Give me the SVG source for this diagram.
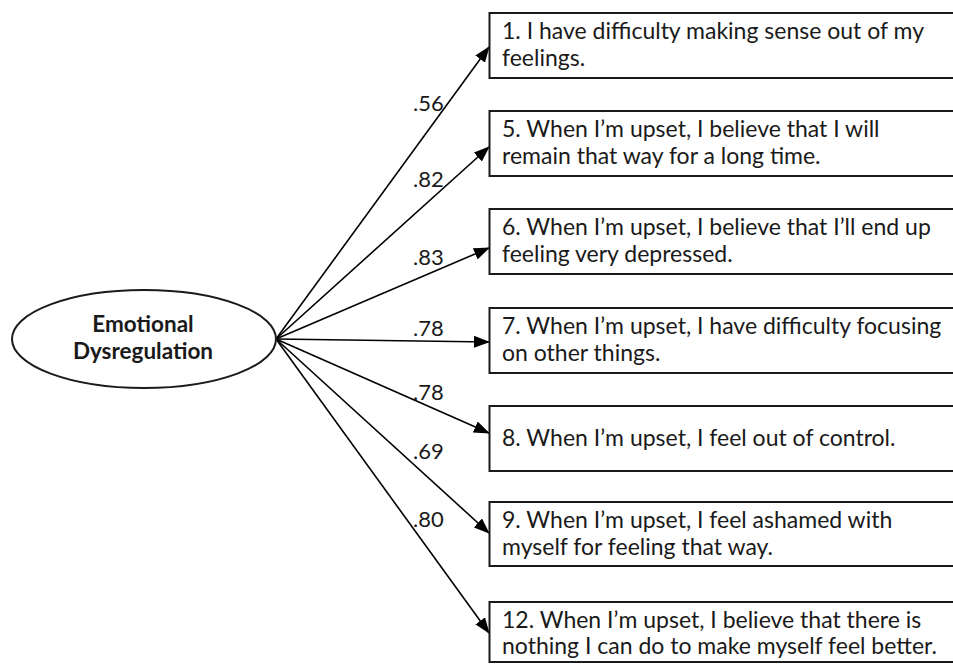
<svg xmlns="http://www.w3.org/2000/svg" width="953" height="664" viewBox="0 0 953 664">
<defs>
<marker id="ah" markerWidth="16" markerHeight="12" refX="15" refY="6" orient="auto" markerUnits="userSpaceOnUse">
<path d="M0,0 L16,6 L0,12 Z" fill="#000"/>
</marker>
<style>
.box{fill:#fff;stroke:#1a1a1a;stroke-width:2}
.t{font-family:Lato,"Liberation Sans",sans-serif;font-size:23px;fill:#1a1a1a}
.lbl{font-family:Lato,"Liberation Sans",sans-serif;font-size:22px;fill:#1a1a1a}
.c{stroke:#000;stroke-width:1.6;fill:none;marker-end:url(#ah)}
.lv{font-family:Lato,"Liberation Sans",sans-serif;font-size:22.5px;font-weight:bold;fill:#1a1a1a;text-anchor:middle}
</style>
</defs>
<rect width="953" height="664" fill="#fff"/>
<g id="connectors">
<line class="c" x1="276" y1="339" x2="489" y2="47"/>
<line class="c" x1="276" y1="339" x2="489" y2="147"/>
<line class="c" x1="276" y1="339" x2="489" y2="248"/>
<line class="c" x1="276" y1="339" x2="489" y2="342"/>
<line class="c" x1="276" y1="339" x2="489" y2="433"/>
<line class="c" x1="276" y1="339" x2="489" y2="533"/>
<line class="c" x1="276" y1="339" x2="489" y2="633"/>
<text class="lbl" x="413" y="111">.56</text>
<text class="lbl" x="413" y="187">.82</text>
<text class="lbl" x="413" y="265">.83</text>
<text class="lbl" x="413" y="336">.78</text>
<text class="lbl" x="413" y="400">.78</text>
<text class="lbl" x="413" y="459">.69</text>
<text class="lbl" x="413" y="527">.80</text>
</g>
<g id="latent">
<ellipse cx="144" cy="339" rx="132" ry="49" fill="#fff" stroke="#1a1a1a" stroke-width="2"/>
<text class="lv" x="143" y="332">Emotional</text>
<text class="lv" x="143" y="359">Dysregulation</text>
</g>
<g id="item1">
<rect class="box" x="489.5" y="13" width="470" height="65"/>
<text class="t" x="502" y="39">1. I have difficulty making sense out of my</text>
<text class="t" x="502" y="66">feelings.</text>
</g>
<g id="item5">
<rect class="box" x="489.5" y="111" width="470" height="65"/>
<text class="t" x="502" y="137">5. When I’m upset, I believe that I will</text>
<text class="t" x="502" y="164">remain that way for a long time.</text>
</g>
<g id="item6">
<rect class="box" x="489.5" y="209" width="470" height="65"/>
<text class="t" x="502" y="235">6. When I’m upset, I believe that I’ll end up</text>
<text class="t" x="502" y="262">feeling very depressed.</text>
</g>
<g id="item7">
<rect class="box" x="489.5" y="308" width="470" height="65"/>
<text class="t" x="502" y="334">7. When I’m upset, I have difficulty focusing</text>
<text class="t" x="502" y="361">on other things.</text>
</g>
<g id="item8">
<rect class="box" x="489.5" y="406" width="470" height="65"/>
<text class="t" x="502" y="446">8. When I’m upset, I feel out of control.</text>
</g>
<g id="item9">
<rect class="box" x="489.5" y="502" width="470" height="64"/>
<text class="t" x="502" y="528">9. When I’m upset, I feel ashamed with</text>
<text class="t" x="502" y="555">myself for feeling that way.</text>
</g>
<g id="item12">
<rect class="box" x="489.5" y="602" width="470" height="60"/>
<text class="t" x="502" y="628">12. When I’m upset, I believe that there is</text>
<text class="t" x="502" y="654">nothing I can do to make myself feel better.</text>
</g>
</svg>
